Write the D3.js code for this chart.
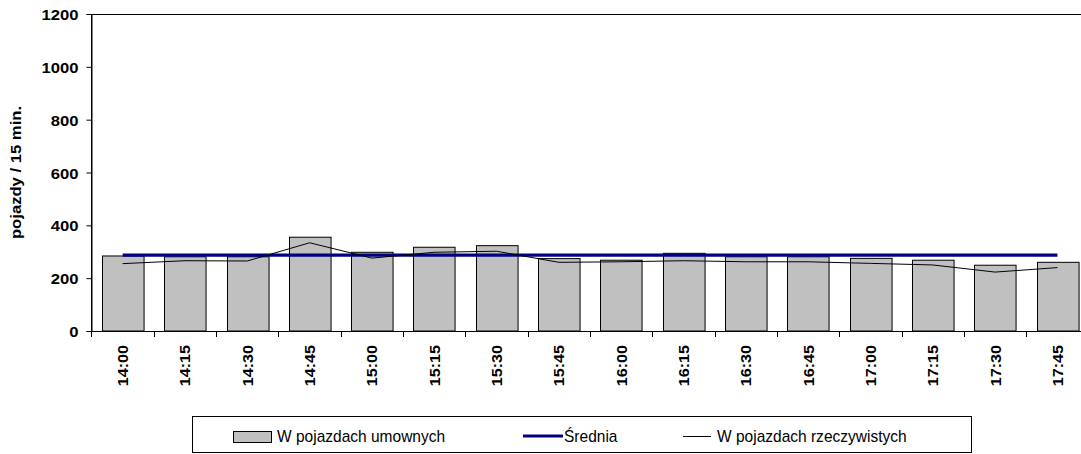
<!DOCTYPE html>
<html>
<head>
<meta charset="utf-8">
<script src="https://cdn.jsdelivr.net/npm/d3@7/dist/d3.min.js"></script>
<style>
  html, body { margin: 0; padding: 0; background: #fff; }
  svg { display: block; }
  text { font-family: "Liberation Sans", Arial, sans-serif; fill: #000; }
</style>
</head>
<body>
<svg id="chart" width="1081" height="454"></svg>
<script>
const categories = ["14:00","14:15","14:30","14:45","15:00","15:15","15:30","15:45","16:00","16:15","16:30","16:45","17:00","17:15","17:30","17:45"];
const umowne = [284, 281, 281, 355, 298, 317, 323, 274, 268, 294, 281, 281, 275, 268, 249, 260];
const srednia = [287, 287, 287, 287, 287, 287, 287, 287, 287, 287, 287, 287, 287, 287, 287, 287];
const rzeczywiste = [255, 266, 265, 334, 276, 298, 302, 260, 262, 266, 262, 262, 256, 250, 223, 240];
const yTicks = [0, 200, 400, 600, 800, 1000, 1200];
const legendLabels = ["W pojazdach umownych", "Średnia", "W pojazdach rzeczywistych"];
const yTitle = "pojazdy / 15 min.";

const svg = d3.select("#chart");
const pLeft = 91.5, pRight = 1088.6, pTop = 14, pBottom = 331;
const FS = 15, SX = 1.11;

const x = d3.scaleBand().domain(categories).range([pLeft, pRight])
  .paddingInner(0.333).paddingOuter(0.1665);
const y = d3.scaleLinear().domain([0, 1200]).range([pBottom, pTop]);
const cx = c => x(c) + x.bandwidth() / 2;

// plot area border
svg.append("rect").attr("x", pLeft).attr("y", pTop + 0.5)
  .attr("width", pRight - pLeft).attr("height", pBottom - pTop)
  .attr("fill", "none").attr("stroke", "#000").attr("stroke-width", 1);

// bars
svg.append("g").selectAll("rect").data(categories).join("rect")
  .attr("x", c => Math.round(x(c)) + 0.5)
  .attr("y", (c, i) => y(umowne[i]))
  .attr("width", x.bandwidth())
  .attr("height", (c, i) => pBottom - y(umowne[i]))
  .attr("fill", "#C0C0C0").attr("stroke", "#000").attr("stroke-width", 1);

// average line
svg.append("path")
  .datum(categories.map((c, i) => [cx(c), y(srednia[i])]))
  .attr("d", d3.line()).attr("fill", "none")
  .attr("stroke", "#000080").attr("stroke-width", 3.2);

// actual line
svg.append("path")
  .datum(categories.map((c, i) => [cx(c), y(rzeczywiste[i])]))
  .attr("d", d3.line()).attr("fill", "none")
  .attr("stroke", "#000").attr("stroke-width", 1);

// y axis
const yAxis = d3.axisLeft(y).tickValues(yTicks).tickFormat(d3.format("d")).tickSize(5).tickPadding(8);
const gy = svg.append("g").attr("transform", `translate(${pLeft},0)`).call(yAxis);
gy.select(".domain").attr("stroke", "#000");
gy.selectAll(".tick line").attr("stroke", "#000");
gy.selectAll(".tick text").each(function(d) {
  const t = d3.select(this);
  t.attr("x", null).attr("dy", null)
   .attr("transform", `translate(-13,5.5) scale(${SX},1)`)
   .attr("text-anchor", "end")
   .style("font-family", '"Liberation Sans", Arial, sans-serif')
   .style("font-size", FS + "px").style("font-weight", "bold");
});

// x axis
const step = x.step();
const gap = step - x.bandwidth();
const boundaries = categories.map(c => x(c) - gap / 2).concat([x(categories[categories.length - 1]) + x.bandwidth() + gap / 2]);
const gx = svg.append("g");
gx.append("line").attr("x1", pLeft).attr("x2", pRight).attr("y1", pBottom + 0.5).attr("y2", pBottom + 0.5).attr("stroke", "#000");
gx.selectAll("line.tk").data(boundaries).join("line").attr("class", "tk")
  .attr("x1", d => Math.round(d) + 0.5).attr("x2", d => Math.round(d) + 0.5)
  .attr("y1", pBottom).attr("y2", pBottom + 6).attr("stroke", "#000");
gx.selectAll("text").data(categories).join("text")
  .attr("transform", c => `translate(${cx(c) + 5.5},345) rotate(-90) scale(${SX * 0.97},1)`)
  .attr("text-anchor", "end")
  .style("font-size", FS + "px").style("font-weight", "bold")
  .text(c => c);

// y title
svg.append("text")
  .attr("transform", `translate(20.5,${(pTop + pBottom) / 2}) rotate(-90) scale(${SX},1)`)
  .attr("text-anchor", "middle")
  .style("font-size", FS + "px").style("font-weight", "bold")
  .text(yTitle);

// legend
const lg = svg.append("g");
lg.append("rect").attr("x", 192.5).attr("y", 416.5).attr("width", 779).attr("height", 36)
  .attr("fill", "#fff").attr("stroke", "#000").attr("stroke-width", 1);
lg.append("rect").attr("x", 233.5).attr("y", 431.5).attr("width", 38).attr("height", 11)
  .attr("fill", "#C0C0C0").attr("stroke", "#000");
lg.append("line").attr("x1", 523).attr("x2", 563).attr("y1", 436).attr("y2", 436)
  .attr("stroke", "#000080").attr("stroke-width", 3.2);
lg.append("line").attr("x1", 683).attr("x2", 711).attr("y1", 436.5).attr("y2", 436.5)
  .attr("stroke", "#000").attr("stroke-width", 1);
const lx = [277, 564, 717];
lg.selectAll("text.lt").data(legendLabels).join("text").attr("class", "lt")
  .attr("transform", (d, i) => `translate(${lx[i]},442) scale(0.97,1)`)
  .style("font-size", "16px")
  .text(d => d);
</script>
</body>
</html>
